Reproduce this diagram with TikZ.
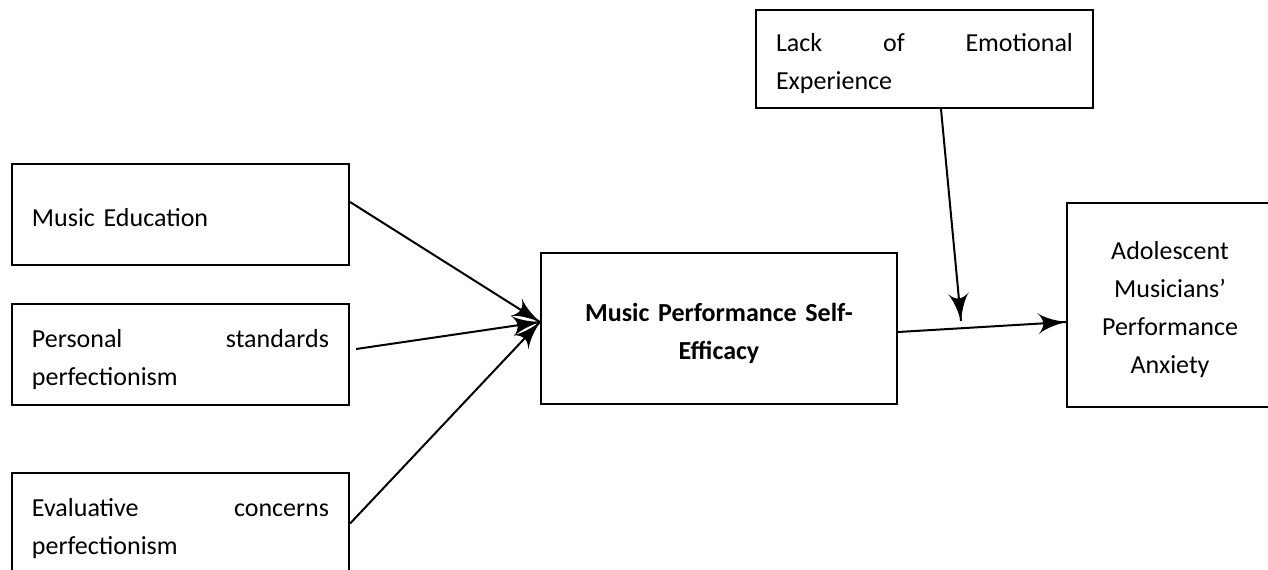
\documentclass[tikz,border=0pt]{standalone}
\usepackage{fontspec}
\setmainfont{Carlito}
\usetikzlibrary{arrows}
\usetikzlibrary{decorations.markings}
\tikzset{->/.style = {decoration={markings,
                                  mark=at position 1 with {\arrow[scale=2.4]{latex'}}},
                      postaction={decorate}}}
\tikzset{fbox/.style={draw, line width=1.1pt, inner ysep=0pt,
                      execute at begin node={\rule{0pt}{15.25pt}},
                      execute at end node={\rule[-3.75pt]{0pt}{3.75pt}},
                      font=\fontsize{13pt}{19pt}\selectfont}}
\tikzset{lbox/.style={fbox, text width=148.5pt, minimum width=168.5pt, minimum height=50.5pt,
                      inner xsep=10pt, align=left}}
\tikzset{cbox/.style={fbox, align=center}}

\begin{document}
\begin{tikzpicture}[x=0.5pt, y=-0.5pt, line width=1pt]
    \useasboundingbox (0,0) rectangle (1268,569);

    \node [lbox] (edu) at (180.5, 214.5) {Music Education};
    \node [lbox] (pers) at (180.5, 354.5) {Personal\hfill standards\\perfectionism};
    \node [lbox] (eval) at (180.5, 523.5) {Evaluative\hfill concerns\\perfectionism};

    \node [cbox, text width=158pt, minimum width=178pt, minimum height=75.5pt,
           font=\fontsize{13pt}{19pt}\selectfont\bfseries] (mpse) at (719, 328.5)
          {Music Performance Self-\\Efficacy};

    \node [lbox, minimum height=49pt] (lack) at (924.5, 59) {Lack\hfill of\hfill Emotional\\Experience};
    \node [cbox, text width=85pt, minimum width=103pt, minimum height=102pt] (mpa) at (1170, 305)
          {Adolescent\\Musicians’\\Performance\\Anxiety};

    \coordinate (join) at (540, 322);
    \coordinate (mod) at (961, 321);

    \draw [->] ([yshift=6.25pt]edu.east) -- (join);
    \draw [->] ([xshift=3pt, yshift=2.75pt]pers.east) -- (join);
    \draw [->] (eval.east) -- (join);
    \draw [->] ([xshift=8.25pt]lack.south) -- (mod);
    \draw [->] ([yshift=-1.75pt]mpse.east) -- ([yshift=-8.5pt]mpa.west);
\end{tikzpicture}
\end{document}
